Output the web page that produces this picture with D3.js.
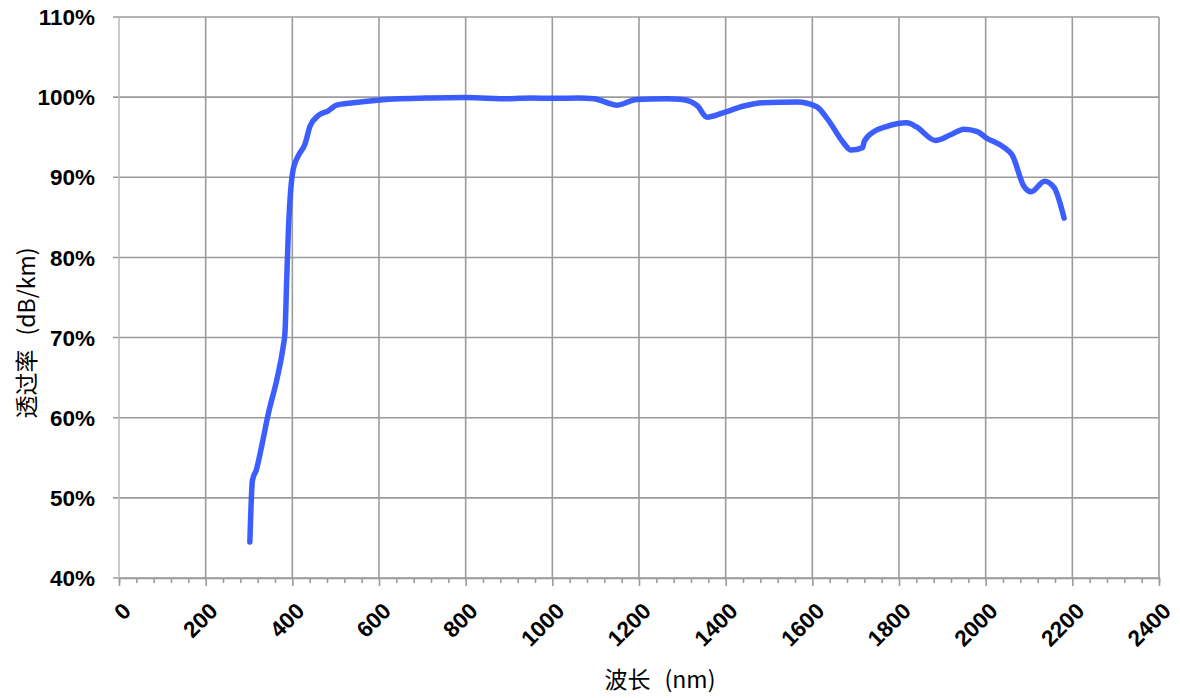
<!DOCTYPE html>
<html><head><meta charset="utf-8">
<script src="https://cdn.jsdelivr.net/npm/d3@7"></script>
<style>
html,body{margin:0;padding:0;background:#fff;}
svg{display:block;}
</style></head>
<body>
<svg id="chart" width="1180" height="698"></svg>
<script>
const wavelengths = [302, 308, 317, 329, 345, 364, 379, 383, 387, 391, 397, 402, 414, 429, 441, 460, 483, 502, 541, 602, 718, 800, 900, 950, 1000, 1061, 1096, 1150, 1194, 1265, 1300, 1335, 1357, 1397, 1442, 1486, 1565, 1610, 1636, 1672, 1689, 1716, 1720, 1742, 1769, 1818, 1840, 1884, 1919, 1950, 1981, 1999, 2043, 2061, 2088, 2105, 2136, 2158, 2181];
const transmittance = [44.5, 52.2, 53.5, 56.4, 60.6, 64.7, 68.9, 70.6, 77.2, 83.5, 88.9, 91.0, 92.7, 94.1, 96.4, 97.7, 98.3, 99.0, 99.3, 99.65, 99.9, 99.95, 99.8, 99.9, 99.85, 99.9, 99.8, 99.0, 99.7, 99.8, 99.7, 98.9, 97.5, 98.1, 98.9, 99.3, 99.4, 98.8, 97.2, 94.3, 93.4, 93.7, 94.5, 95.7, 96.3, 96.8, 96.3, 94.6, 95.3, 96.0, 95.7, 95.0, 93.7, 92.8, 88.9, 88.2, 89.5, 88.7, 84.9];
const xTicks = [0, 200, 400, 600, 800, 1000, 1200, 1400, 1600, 1800, 2000, 2200, 2400];
const yTicks = [40, 50, 60, 70, 80, 90, 100, 110];
const xTitle = ["波长", "(nm)"];
const yTitle = ["透过率", "(dB/km)"];

const svg = d3.select("#chart");
const L = 119, R = 1159, T = 17, B = 578;
const x = d3.scaleLinear().domain([0, 2400]).range([L, R]);
const y = d3.scaleLinear().domain([40, 110]).range([B, T]);
const grid = "#9b9b9b";

// horizontal gridlines + left tick stubs
svg.append("g").selectAll("line").data(yTicks).join("line")
  .attr("x1", L - 6).attr("x2", R)
  .attr("y1", d => y(d)).attr("y2", d => y(d))
  .attr("stroke", grid).attr("stroke-width", 1.6);

// vertical gridlines
svg.append("g").selectAll("line").data(xTicks).join("line")
  .attr("x1", d => x(d)).attr("x2", d => x(d))
  .attr("y1", T).attr("y2", B)
  .attr("stroke", d => d === 0 ? "#bdbdbd" : grid).attr("stroke-width", 1.6);

// bottom axis with major + minor ticks
const axisG = svg.append("g").attr("transform", `translate(0,${B})`);
axisG.call(d3.axisBottom(x).tickValues(d3.range(0, 2401, 40)).tickSize(5).tickFormat(""));
axisG.select(".domain").attr("stroke", grid).attr("stroke-width", 1.6);
axisG.selectAll(".tick line").attr("stroke", grid).attr("stroke-width", 1.6)
  .attr("y2", d => d % 200 === 0 ? 8 : 5);

// y tick labels
svg.append("g").selectAll("text").data(yTicks).join("text")
  .attr("x", 95).attr("y", d => y(d)).attr("dy", "0.36em")
  .attr("text-anchor", "end")
  .attr("font-family", "'Liberation Sans', Arial, sans-serif")
  .attr("font-weight", "bold").attr("font-size", 22.5)
  .attr("fill", "#000")
  .text(d => d + "%");

// x tick labels rotated
svg.append("g").selectAll("text").data(xTicks).join("text")
  .attr("transform", d => `translate(${x(d) + 2},${B + 23}) rotate(-45)`)
  .attr("text-anchor", "end").attr("dy", "0.72em")
  .attr("font-family", "'Liberation Sans', Arial, sans-serif")
  .attr("font-weight", "bold").attr("font-size", 22.5)
  .attr("fill", "#000")
  .text(d => d);

// axis titles
function title(sel, parts) {
  sel.attr("text-anchor", "middle")
    .attr("font-family", "'Noto Sans CJK SC', 'Liberation Sans', sans-serif")
    .attr("font-size", 23).attr("fill", "#000");
  sel.append("tspan").text(parts[0]);
  sel.append("tspan").attr("dx", 14).text(parts[1]);
}
svg.append("text").attr("x", 660).attr("y", 688).call(title, xTitle);
svg.append("text").attr("transform", "translate(35,333) rotate(-90)").call(title, yTitle);

// data line
const pts = wavelengths.map((w, i) => [w, transmittance[i]]);
svg.append("path")
  .datum(pts)
  .attr("fill", "none")
  .attr("stroke", "#3355ff")
  .attr("stroke-opacity", 0.95)
  .attr("stroke-width", 5.5)
  .attr("stroke-linecap", "round")
  .attr("stroke-linejoin", "round")
  .attr("d", d3.line().x(d => x(d[0])).y(d => y(d[1])).curve(d3.curveMonotoneX));
</script>
</body></html>
